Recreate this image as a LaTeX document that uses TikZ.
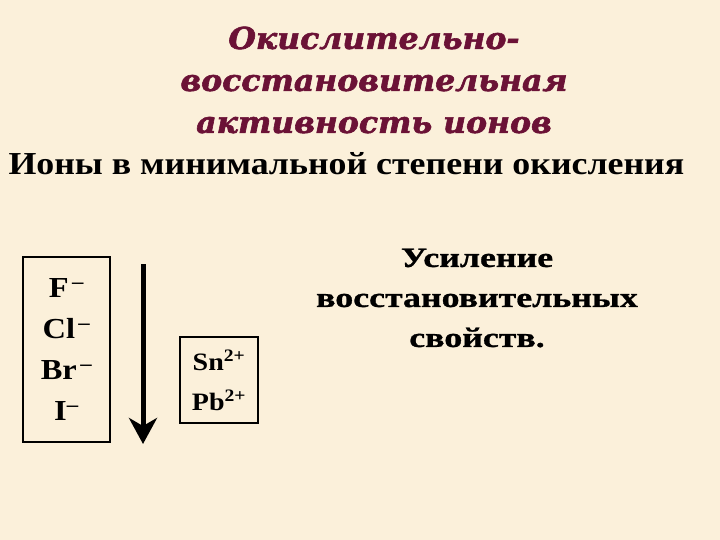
\documentclass[tikz,border=0pt]{standalone}
\usepackage{fontspec}
\setmainfont{Liberation Serif}
\newfontfamily\titlefont[FakeBold=2, FakeStretch=1.05]{DejaVu Serif}
\newfontfamily\headfont[FakeStretch=1.12]{Liberation Serif}
\newfontfamily\ionfont[FakeStretch=1.12]{Liberation Serif}
\newfontfamily\gainfont[FakeStretch=1.28, FakeBold=1]{Liberation Serif}
\usetikzlibrary{arrows.meta, positioning}
\definecolor{slidebg}{HTML}{FBF0DA}
\definecolor{titlered}{HTML}{6B1236}

\begin{document}
\begin{tikzpicture}[x=1pt, y=-1pt,
	titletext/.style={font=\titlefont\bfseries\itshape\fontsize{30}{42}\selectfont, text=titlered, align=center},
	ionbox/.style={draw, line width=1.5pt, align=center, inner sep=0pt, font=\ionfont\bfseries}]

	\fill[slidebg] (0,0) rectangle (720,540);

	\node[titletext] (title) at (374,80) {Окислительно-\\восстановительная\\активность ионов};
	\node[anchor=west, font=\headfont\bfseries\fontsize{32}{38}\selectfont] (heading) at (5,164) {Ионы в минимальной степени окисления};

	\node[ionbox, minimum width=87pt, minimum height=185pt, font=\ionfont\bfseries\fontsize{29}{41}\selectfont]
		(halbox) at (66.5,349.5) {F\textsuperscript{\,–}\\Cl\textsuperscript{\,–}\\Br\textsuperscript{\,–}\\I\textsuperscript{–}};
	\node[ionbox, minimum width=78pt, minimum height=86pt, font=\ionfont\bfseries\fontsize{25}{40}\selectfont]
		(snbox) at (219,380) {Sn\textsuperscript{2+}\\Pb\textsuperscript{2+}};

	\coordinate (top) at (143,264);
	\coordinate (bottom) at (143,444);
	\draw[line width=5pt, -{Stealth[length=26pt, width=28pt, inset=8pt]}] (top) -- (bottom);

	\node[align=center, font=\gainfont\bfseries\fontsize{28}{40}\selectfont] (gain) at (477,298)
		{Усиление\\восстановительных\\свойств.};

\end{tikzpicture}
\end{document}
